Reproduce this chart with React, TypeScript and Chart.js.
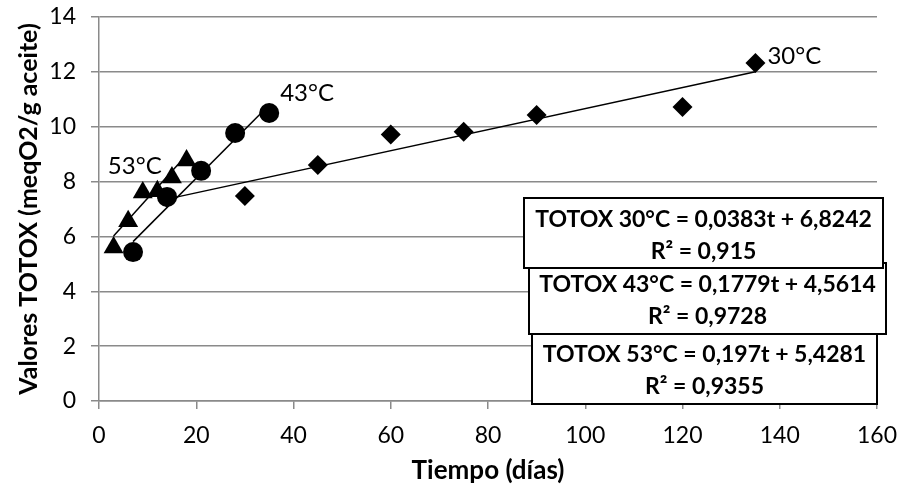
import React, { useEffect, useRef } from "react";
import { Chart, registerables } from "chart.js";

Chart.register(...registerables);

// ---- data ----
const days30 = [14, 30, 45, 60, 75, 90, 120, 135];
const totox30 = [7.4, 7.47, 8.6, 9.72, 9.82, 10.43, 10.72, 12.32];

const days43 = [7, 14, 21, 28, 35];
const totox43 = [5.43, 7.44, 8.39, 9.77, 10.5];

const days53 = [3, 6, 9, 12, 15, 18];
const totox53 = [5.6, 6.55, 7.6, 7.65, 8.15, 8.77];

// linear trend lines (end points of each fitted line)
const trendDays30 = [14, 135];
const trendVals30 = [7.36, 12.0];
const trendDays43 = [7, 35];
const trendVals43 = [5.81, 10.79];
const trendDays53 = [3, 18];
const trendVals53 = [6.02, 8.97];

const seriesNames = ["30°C", "43°C", "53°C"];
const equation30 = ["TOTOX 30°C = 0,0383t + 6,8242", "R² = 0,915"];
const equation43 = ["TOTOX 43°C = 0,1779t + 4,5614", "R² = 0,9728"];
const equation53 = ["TOTOX 53°C = 0,197t + 5,4281", "R² = 0,9355"];

const xTitle = "Tiempo (días)";
const yTitle = "Valores TOTOX (meqO2/g aceite)";
const xMin = 0, xMax = 160, xStep = 20;
const yMin = 0, yMax = 14, yStep = 2;

const FONT = "Lato, 'Open Sans', sans-serif";

const toXY = (xs: number[], ys: number[]) => xs.map((x, i) => ({ x, y: ys[i] }));

const annotationPlugin = {
  id: "annotations",
  afterDraw(chart: any) {
    const ctx = chart.ctx;
    const xs = chart.scales.x;
    const ys = chart.scales.y;
    ctx.save();
    // series labels anchored near points
    const labels = [
      { text: seriesNames[0], x: days30[7], y: totox30[7], dx: 12, dy: -8, align: "left" },
      { text: seriesNames[1], x: days43[4], y: totox43[4], dx: 11, dy: -21, align: "left" },
      { text: seriesNames[2], x: days53[2], y: totox53[2], dx: -8, dy: -27, align: "center" },
    ];
    ctx.fillStyle = "#000";
    ctx.font = `24px ${FONT}`;
    ctx.textBaseline = "alphabetic";
    for (const l of labels) {
      const px = xs.getPixelForValue(l.x) + l.dx;
      const py = ys.getPixelForValue(l.y) + l.dy;
      ctx.textAlign = l.align;
      ctx.fillText(l.text, px, py + 8.5);
    }
    // equation boxes
    const boxes = [
      { lines: equation53, x: 532, y: 333, w: 345, h: 71 },
      { lines: equation43, x: 529, y: 263, w: 357, h: 71 },
      { lines: equation30, x: 524, y: 198, w: 359, h: 70 },
    ];
    for (const b of boxes) {
      ctx.fillStyle = "#fff";
      ctx.fillRect(b.x, b.y, b.w, b.h);
      ctx.strokeStyle = "#000";
      ctx.lineWidth = 2;
      ctx.strokeRect(b.x, b.y, b.w, b.h);
      ctx.fillStyle = "#000";
      ctx.font = `bold 23px ${FONT}`;
      ctx.textAlign = "center";
      ctx.textBaseline = "alphabetic";
      ctx.fillText(b.lines[0], b.x + b.w / 2, b.y + 21 + 8);
      ctx.fillText(b.lines[1], b.x + b.w / 2, b.y + 53 + 8);
    }
    ctx.restore();
  },
};

export default function App() {
  const ref = useRef<HTMLCanvasElement>(null);
  useEffect(() => {
    if (!ref.current) return;
    const gridColor = "#8a8a8a";
    const chart = new Chart(ref.current, {
      type: "scatter",
      data: {
        datasets: [
          {
            label: seriesNames[2],
            data: toXY(days53, totox53),
            pointStyle: "triangle",
            pointRadius: 11.5,
            backgroundColor: "#000",
            borderColor: "#000",
            borderWidth: 0,
            showLine: false,
          },
          {
            label: seriesNames[1],
            data: toXY(days43, totox43),
            pointStyle: "circle",
            pointRadius: 10,
            backgroundColor: "#000",
            borderColor: "#000",
            borderWidth: 0,
            showLine: false,
          },
          {
            label: seriesNames[0],
            data: toXY(days30, totox30),
            pointStyle: "rectRot",
            pointRadius: 10,
            backgroundColor: "#000",
            borderColor: "#000",
            borderWidth: 0,
            showLine: false,
          },
          {
            label: "trend 30",
            data: toXY(trendDays30, trendVals30),
            showLine: true,
            pointRadius: 0,
            borderColor: "#000",
            borderWidth: 1.5,
          },
          {
            label: "trend 43",
            data: toXY(trendDays43, trendVals43),
            showLine: true,
            pointRadius: 0,
            borderColor: "#000",
            borderWidth: 1.5,
          },
          {
            label: "trend 53",
            data: toXY(trendDays53, trendVals53),
            showLine: true,
            pointRadius: 0,
            borderColor: "#000",
            borderWidth: 1.5,
          },
        ],
      },
      options: {
        responsive: false,
        animation: false,
        events: [],
        layout: { padding: { top: 17, right: 24, left: 0, bottom: 0 } },
        plugins: { legend: { display: false }, tooltip: { enabled: false } },
        scales: {
          x: {
            type: "linear",
            min: xMin,
            max: xMax,
            afterFit: (s: any) => {
              s.height = 90;
              s.paddingLeft = 10;
              s.paddingRight = 20;
            },
            ticks: { stepSize: xStep, color: "#000", font: { family: FONT, size: 23 }, padding: 13 },
            grid: { drawOnChartArea: false, drawTicks: true, tickLength: 8, color: gridColor, lineWidth: 1.5 },
            border: { display: true, color: gridColor, width: 1.5 },
            title: {
              display: true,
              text: xTitle,
              color: "#000",
              font: { family: FONT, size: 26, weight: "bold" },
              padding: { top: 0, bottom: 5 },
            },
          },
          y: {
            type: "linear",
            min: yMin,
            max: yMax,
            afterFit: (s: any) => {
              s.width = 99;
              s.paddingTop = 8;
              s.paddingBottom = 8;
            },
            ticks: { stepSize: yStep, color: "#000", font: { family: FONT, size: 23 }, padding: 15 },
            grid: { drawOnChartArea: true, drawTicks: true, tickLength: 8, color: gridColor, lineWidth: 1.5 },
            border: { display: true, color: gridColor, width: 1.5 },
            title: {
              display: true,
              text: yTitle,
              color: "#000",
              font: { family: FONT, size: 25, weight: "bold" },
              padding: { top: 14, bottom: 0 },
            },
          },
        },
      },
      plugins: [annotationPlugin],
    });
    return () => chart.destroy();
  }, []);
  return (
    <div style={{ position: "absolute", left: 0, top: 0, width: 901, height: 491, background: "#fff" }}>
      <canvas ref={ref} width={901} height={491} style={{ display: "block" }} />
    </div>
  );
}
